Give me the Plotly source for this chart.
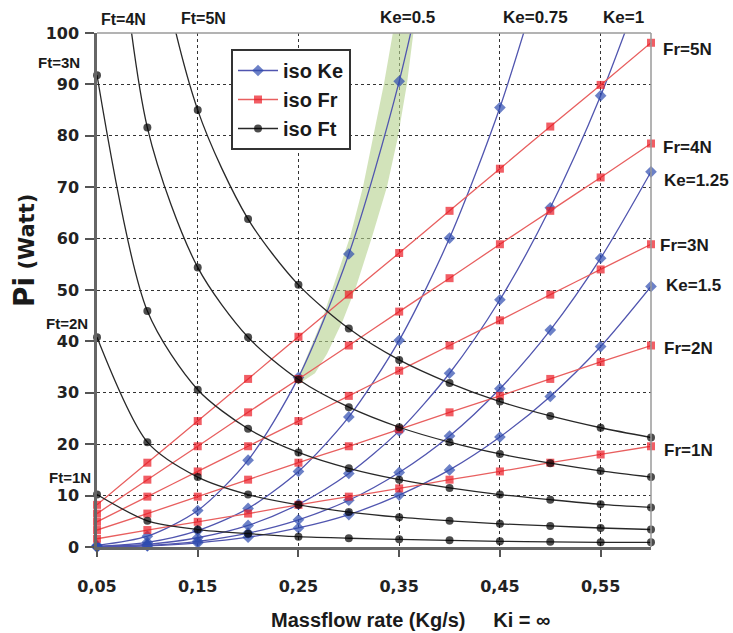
import plotly.graph_objects as go

# ---------------- data ----------------
massflow = [0.05, 0.10, 0.15, 0.20, 0.25, 0.30, 0.35, 0.40, 0.45, 0.50, 0.55, 0.60]

# iso Ke curves (Pi in Watt)
ke_names = ["Ke=0.5", "Ke=0.75", "Ke=1", "Ke=1.25", "Ke=1.5"]
ke_05 = [0.3, 2.1, 7.1, 16.9, 33.0, 57.0, 90.6, 135.2]
ke_075 = [0.1, 0.9, 3.2, 7.5, 14.7, 25.3, 40.2, 60.1, 85.5, 117.3]
ke_1 = [0.1, 0.5, 1.8, 4.2, 8.3, 14.3, 22.6, 33.8, 48.1, 66.0, 87.8, 114.0]
ke_125 = [0.0, 0.3, 1.1, 2.7, 5.3, 9.1, 14.5, 21.6, 30.8, 42.2, 56.2, 73.0]
ke_15 = [0.0, 0.2, 0.8, 1.9, 3.7, 6.3, 10.1, 15.0, 21.4, 29.3, 39.0, 50.7]

# iso Fr lines
fr_names = ["Fr=1N", "Fr=2N", "Fr=3N", "Fr=4N", "Fr=5N"]
fr_1 = [1.6, 3.3, 4.9, 6.5, 8.2, 9.8, 11.4, 13.1, 14.7, 16.4, 18.0, 19.6]
fr_2 = [3.3, 6.5, 9.8, 13.1, 16.4, 19.6, 22.9, 26.2, 29.4, 32.7, 36.0, 39.2]
fr_3 = [4.9, 9.8, 14.7, 19.6, 24.5, 29.4, 34.3, 39.2, 44.1, 49.1, 54.0, 58.9]
fr_4 = [6.5, 13.1, 19.6, 26.2, 32.7, 39.2, 45.8, 52.3, 58.9, 65.4, 71.9, 78.5]
fr_5 = [8.2, 16.4, 24.5, 32.7, 40.9, 49.1, 57.2, 65.4, 73.6, 81.8, 89.9, 98.1]

# iso Ft curves
ft_names = ["Ft=1N", "Ft=2N", "Ft=3N", "Ft=4N", "Ft=5N"]
ft_1 = [10.2, 5.1, 3.4, 2.6, 2.0, 1.7, 1.5, 1.3, 1.1, 1.0, 0.9, 0.9]
ft_2 = [40.8, 20.4, 13.6, 10.2, 8.2, 6.8, 5.8, 5.1, 4.5, 4.1, 3.7, 3.4]
ft_3 = [91.8, 45.9, 30.6, 23.0, 18.4, 15.3, 13.1, 11.5, 10.2, 9.2, 8.3, 7.7]
ft_4 = [163.2, 81.6, 54.4, 40.8, 32.6, 27.2, 23.3, 20.4, 18.1, 16.3, 14.8, 13.6]
ft_5 = [255.0, 127.5, 85.0, 63.8, 51.0, 42.5, 36.4, 31.9, 28.3, 25.5, 23.2, 21.3]

# green highlighted zone around Ke=0.5 (outline, massflow / Pi)
zone_x = [0.2486, 0.2515, 0.2595, 0.2734, 0.2843, 0.3012, 0.3141, 0.3240, 0.3350, 0.3437,
          0.3641, 0.3578, 0.3488, 0.3379, 0.3230, 0.3071, 0.2942, 0.2784, 0.2664, 0.2486]
zone_y = [31.5, 33.8, 37.6, 44.1, 50.6, 60.3, 70.1, 79.8, 90.2, 100.0,
          100.0, 90.2, 79.8, 70.1, 60.3, 50.6, 44.1, 37.6, 33.8, 31.5]

x_ticks = [0.05, 0.15, 0.25, 0.35, 0.45, 0.55]
y_ticks = [0, 10, 20, 30, 40, 50, 60, 70, 80, 90, 100]

# ---------------- styling ----------------
W, H = 733, 633
L, R, T, B = 97, 651, 33, 547
YMAX = 100

KE_LINE, KE_MARK = "rgb(80,85,175)", "rgb(45,75,175)"
FR_LINE, FR_MARK = "rgb(232,95,95)", "rgb(235,25,35)"
FT_LINE, FT_MARK = "rgb(40,40,40)", "rgb(0,0,0)"

fig = go.Figure()

fig.add_trace(go.Scatter(x=zone_x, y=zone_y, mode="lines", fill="toself",
                         fillcolor="rgba(180,208,140,0.6)", line=dict(width=0),
                         hoverinfo="skip", showlegend=False))


def add_family(series, group, name, line_col, mark_col, symbol, size, legend_idx, rank):
    for i, ys in enumerate(series):
        xs = massflow[:len(ys)]
        sizes = [size if v <= YMAX else 0 for v in ys]
        fig.add_trace(go.Scatter(
            x=xs, y=ys, mode="lines+markers",
            line=dict(color=line_col, width=1.3, shape="spline", smoothing=0.8),
            marker=dict(symbol=symbol, size=sizes, color=mark_col, line=dict(width=0)),
            cliponaxis=False, legendgroup=group, name=name,
            showlegend=(i == legend_idx), legendrank=rank, hoverinfo="skip"))


add_family([ke_05, ke_075, ke_1, ke_125, ke_15], "ke", "iso Ke", KE_LINE, KE_MARK,
           "diamond", 9, 4, 1)
add_family([fr_1, fr_2, fr_3, fr_4, fr_5], "fr", "iso Fr", FR_LINE, FR_MARK,
           "square", 8, 0, 2)
add_family([ft_1, ft_2, ft_3, ft_4, ft_5], "ft", "iso Ft", FT_LINE, FT_MARK,
           "circle", 8, 0, 3)


def px(xp):
    return (xp - L) / (R - L)


def py(yp):
    return (B - yp) / (B - T)


labels = [("Ft=4N", 123, 19, 16), ("Ft=5N", 203, 18, 16), ("Ft=3N", 59, 62, 15),
          ("Ft=2N", 67, 323, 15), ("Ft=1N", 70, 477, 15),
          ("Ke=0.5", 407, 17, 17), ("Ke=0.75", 535, 17, 17), ("Ke=1", 623, 17, 17),
          ("Fr=5N", 687, 49, 17), ("Fr=4N", 687, 147, 17), ("Ke=1.25", 696, 180, 17),
          ("Fr=3N", 684, 245, 17), ("Ke=1.5", 693, 285, 17), ("Fr=2N", 688, 348, 17),
          ("Fr=1N", 688, 450, 17)]
for txt, xp, yp, fs in labels:
    fig.add_annotation(text=txt, x=px(xp), y=py(yp), xref="paper", yref="paper",
                       xanchor="center", yanchor="middle", showarrow=False,
                       font=dict(family="Liberation Sans", size=fs, color="#1a1a1a",
                                 weight="bold"))

fig.add_annotation(text="Massflow rate (Kg/s)" + "\u00a0" * 5 + "Ki = \u221e",
                   x=px(410), y=py(620), xref="paper", yref="paper",
                   xanchor="center", yanchor="middle", showarrow=False,
                   font=dict(family="Liberation Sans", size=20, color="#1a1a1a",
                             weight="bold"))
fig.add_annotation(text="<span style='font-size:28px'>Pi</span> (Watt)",
                   x=px(24), y=py(250), xref="paper", yref="paper", textangle=-90,
                   xanchor="center", yanchor="middle", showarrow=False,
                   font=dict(family="DejaVu Sans", size=21, color="#1a1a1a",
                             weight="bold"))

# frame: top & right light, left & bottom dark
fig.add_shape(type="line", xref="paper", yref="paper", x0=0, x1=1, y0=1, y1=1,
              line=dict(color="#9a9a9a", width=1.5))
fig.add_shape(type="line", xref="paper", yref="paper", x0=1, x1=1, y0=0, y1=1,
              line=dict(color="#9a9a9a", width=1.5))

tickfont = dict(family="DejaVu Sans", size=16, color="#222", weight="bold")
fig.update_xaxes(range=[0.05, 0.6], tickvals=x_ticks, tickformat=".2f",
                 showgrid=True, gridcolor="#333", griddash="3px,3px", gridwidth=1.3,
                 showline=True, linecolor="#666", linewidth=2.5,
                 ticks="outside", ticklen=7, tickcolor="#555", tickwidth=1.5,
                 ticklabelstandoff=16, tickfont=tickfont, zeroline=False)
fig.update_yaxes(range=[0, 100], tickvals=y_ticks,
                 showgrid=True, gridcolor="#333", griddash="3px,3px", gridwidth=1.3,
                 showline=True, linecolor="#666", linewidth=2.5,
                 ticks="outside", ticklen=9, tickcolor="#555", tickwidth=1.5,
                 ticklabelstandoff=3, tickfont=tickfont, zeroline=False)

fig.update_layout(
    width=W, height=H, autosize=False,
    margin=dict(l=L, r=W - R, t=T, b=H - B, pad=0),
    paper_bgcolor="white", plot_bgcolor="white",
    separators=",.",
    showlegend=True,
    legend=dict(x=px(231), y=py(49), xanchor="left", yanchor="top",
                bgcolor="white", bordercolor="#333", borderwidth=2,
                font=dict(family="Liberation Sans", size=20, color="#1a1a1a",
                          weight="bold"),
                traceorder="grouped", tracegroupgap=0, itemwidth=40),
)

fig.write_html("out.html")
